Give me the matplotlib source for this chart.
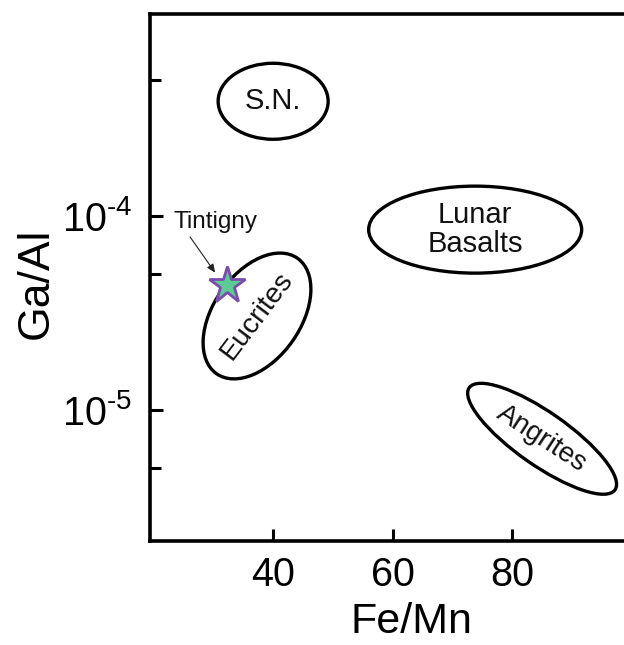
import math
import matplotlib
matplotlib.use("Agg")
import matplotlib.pyplot as plt
from matplotlib.patches import Ellipse
from matplotlib import transforms, ticker

plt.rcParams['font.family'] = ['Liberation Sans', 'DejaVu Sans']
plt.rcParams['mathtext.fontset'] = 'custom'
plt.rcParams['mathtext.rm'] = 'Liberation Sans'
plt.rcParams['mathtext.it'] = 'Liberation Sans:italic'
plt.rcParams['mathtext.bf'] = 'Liberation Sans:bold'

# ---- data ----
group_names = ["S.N.", "Lunar\nBasalts", "Eucrites", "Angrites"]
group_fe_mn = [40.0, 73.8, 37.3, 85.0]
group_ga_al = [3.9e-4, 8.5e-5, 3.05e-5, 7.1e-6]

sample_name = "Tintigny"
sample_fe_mn = [32.3]
sample_ga_al = [4.4e-5]
label_fe_mn = 30.3
label_ga_al = 9.3e-5
arrow_from = (26.1, 7.8e-5)
arrow_to = (30.3, 5.1e-5)

x_ticks = [40, 60, 80]
y_major = [1e-5, 1e-4]
y_minor = [5e-6, 5e-5, 5e-4]
x_range = (19.4, 98.7)
y_range = (2.11e-6, 1.099e-3)

# ---- styles (ellipse sizes in inches, angle in degrees) ----
ell_w = [1.10, 2.13, 1.41, 1.78]
ell_h = [0.76, 0.87, 0.87, 0.53]
ell_ang = [0, 0, 55, -35]
txt_rot = [0, 0, 53, -33]
txt_size = [21, 21, 20.5, 20]

fig = plt.figure(figsize=(6.24, 6.45), dpi=100)
ax = fig.add_axes([150/624, 104/645, 474/624, 527/645])
ax.set_yscale('log')
ax.set_xlim(*x_range)
ax.set_ylim(*y_range)

for name, cx, cy, w, h, a, r, fs in zip(group_names, group_fe_mn, group_ga_al,
                                       ell_w, ell_h, ell_ang, txt_rot, txt_size):
    tr = fig.dpi_scale_trans + transforms.ScaledTranslation(cx, cy, ax.transData)
    e = Ellipse((0, 0), w, h, angle=a, transform=tr, fill=False,
                edgecolor='black', linewidth=2.4)
    ax.add_patch(e)
    ax.text(cx, cy, name, ha='center', va='center', rotation=r,
            rotation_mode='anchor', fontsize=fs, linespacing=1.05,
            color='#111111')

ax.annotate('', xy=arrow_to, xytext=arrow_from,
            arrowprops=dict(arrowstyle='-|>,head_length=0.5,head_width=0.22',
                            color='#222222', lw=0.8, shrinkA=0, shrinkB=0))
ax.text(label_fe_mn, label_ga_al, sample_name, ha='center', va='center',
        fontsize=17.5, color='#111111')
ax.plot(sample_fe_mn, sample_ga_al, marker='*', markersize=28,
        markerfacecolor='#5ccb93', markeredgecolor='#7a4cad',
        markeredgewidth=2.0, linestyle='none', zorder=5)

ax.set_xticks(x_ticks)
ax.set_xticklabels([str(v) for v in x_ticks])
ax.set_yticks(y_major)
ax.set_yticklabels([r'$\mathregular{10^{\text{-%d}}}$' % abs(int(round(math.log10(v))))
                    for v in y_major])
ax.set_yticks(y_minor, minor=True)
ax.yaxis.set_minor_formatter(ticker.NullFormatter())
ax.xaxis.set_minor_locator(ticker.NullLocator())

ax.tick_params(axis='both', which='both', direction='in', width=2.2,
               color='black')
ax.tick_params(axis='both', which='major', length=9, labelsize=28.5, pad=11)
ax.tick_params(axis='y', which='major', pad=13)
ax.tick_params(axis='y', which='minor', length=8)
ax.tick_params(top=False, right=False)

for s in ['left', 'bottom', 'top']:
    ax.spines[s].set_linewidth(2.6)
ax.spines['right'].set_visible(False)

ax.set_xlabel('Fe/Mn', fontsize=31)
ax.set_ylabel('Ga/Al', fontsize=32)
ax.xaxis.set_label_coords((411-150)/474, (541-602)/527)
ax.yaxis.set_label_coords((57-150)/474, (541-283)/527)

fig.savefig('out.png', dpi=100)
